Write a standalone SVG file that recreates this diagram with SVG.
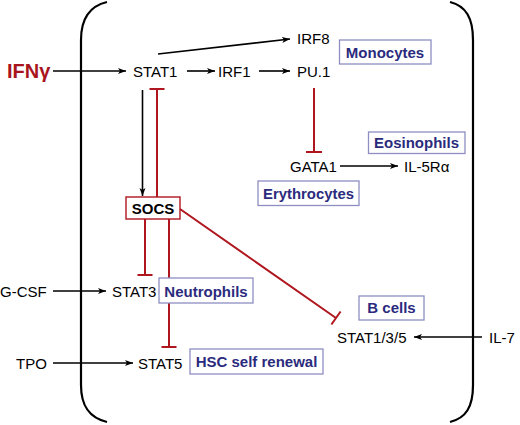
<svg xmlns="http://www.w3.org/2000/svg" width="520" height="425" viewBox="0 0 520 425">
<defs>
<marker id="arr" markerUnits="userSpaceOnUse" markerWidth="9" markerHeight="7" refX="8" refY="3.5" orient="auto">
<path d="M0,0.5 L8,3.5 L0,6.5 L2,3.5 z" fill="#000"/>
</marker>
</defs>
<style>
.t{font-family:"Liberation Sans",Arial,sans-serif;font-size:15px;fill:#000}
.b{font-family:"Liberation Sans",Arial,sans-serif;font-size:15px;font-weight:bold;fill:#2b2b7d;text-anchor:middle}
.box{fill:#fff;stroke:#8e8ec2;stroke-width:1.3}
.a{stroke:#000;stroke-width:1.6;fill:none;marker-end:url(#arr)}
.i{stroke:#b0161e;stroke-width:2;fill:none}
.br{stroke:#000;stroke-width:2.2;fill:none}
</style>
<rect width="520" height="425" fill="#fff"/>
<g id="brackets">
<path class="br" d="M107,2 C90,6 81,18 81,40 L81,385 C81,407 90,418 107,422"/>
<path class="br" d="M450,2 C466,6 473,18 473,40 L473,385 C473,407 466,418 450,422"/>
</g>
<g id="connectors">
<line class="a" x1="53" y1="71" x2="126" y2="71"/>
<line class="a" x1="187" y1="71" x2="215" y2="71"/>
<line class="a" x1="259" y1="71" x2="290" y2="71"/>
<line class="a" x1="158" y1="54" x2="290" y2="39"/>
<line class="a" x1="340" y1="166" x2="398" y2="166"/>
<line class="a" x1="142.5" y1="90" x2="142.5" y2="196"/>
<line class="a" x1="53" y1="291" x2="106" y2="291"/>
<line class="a" x1="53" y1="363" x2="133" y2="363"/>
<line class="a" x1="482" y1="337" x2="414" y2="337"/>
<path class="i" d="M157,197 V89 M149.5,89 H164.5"/>
<path class="i" d="M314,88 V152 M306,152 H322"/>
<path class="i" d="M145,219 V275 M137.5,275 H152.5"/>
<path class="i" d="M169,219 V347 M161.5,347 H176.5"/>
<path class="i" d="M180,209 L336,318 M331.4,324.5 L340.6,311.5"/>
</g>
<g id="IFNg"><text x="7" y="77.5" style="font-family:'Liberation Sans',Arial,sans-serif;font-size:20px;font-weight:bold;fill:#a8151d">IFNγ</text></g>
<g id="STAT1"><text class="t" x="133" y="76.5">STAT1</text></g>
<g id="IRF1"><text class="t" x="218" y="76.5">IRF1</text></g>
<g id="PU1"><text class="t" x="297" y="77">PU.1</text></g>
<g id="IRF8"><text class="t" x="297" y="44">IRF8</text></g>
<g id="GATA1"><text class="t" x="290" y="171.5">GATA1</text></g>
<g id="IL5Ra"><text class="t" x="404" y="171.5">IL-5Rα</text></g>
<g id="GCSF"><text class="t" x="0" y="297">G-CSF</text></g>
<g id="STAT3"><text class="t" x="112" y="297">STAT3</text></g>
<g id="TPO"><text class="t" x="16" y="368.5">TPO</text></g>
<g id="STAT5"><text class="t" x="138" y="368.5">STAT5</text></g>
<g id="STAT135"><text class="t" x="337" y="342.5">STAT1/3/5</text></g>
<g id="IL7"><text class="t" x="489" y="342.5">IL-7</text></g>
<g id="SOCS">
<rect x="126" y="197" width="54" height="22" fill="#fff" stroke="#b0161e" stroke-width="1.4"/>
<text x="153" y="213.5" style="font-family:'Liberation Sans',Arial,sans-serif;font-size:15px;font-weight:bold;fill:#000;text-anchor:middle">SOCS</text>
</g>
<g id="Monocytes"><rect class="box" x="339.5" y="40" width="91.5" height="24"/><text class="b" x="385" y="57.5">Monocytes</text></g>
<g id="Eosinophils"><rect class="box" x="368.5" y="132" width="96.5" height="21.5"/><text class="b" x="416.5" y="148">Eosinophils</text></g>
<g id="Erythrocytes"><rect class="box" x="258" y="181" width="101" height="24.5"/><text class="b" x="308.5" y="198.5" textLength="91" lengthAdjust="spacingAndGlyphs">Erythrocytes</text></g>
<g id="Neutrophils"><rect class="box" x="159" y="278" width="94" height="25"/><text class="b" x="206" y="296.5">Neutrophils</text></g>
<g id="HSC"><rect class="box" x="190" y="349" width="133" height="25"/><text class="b" x="256.5" y="367">HSC self renewal</text></g>
<g id="Bcells"><rect class="box" x="359" y="296" width="65" height="24"/><text class="b" x="391.5" y="313">B cells</text></g>
</svg>
